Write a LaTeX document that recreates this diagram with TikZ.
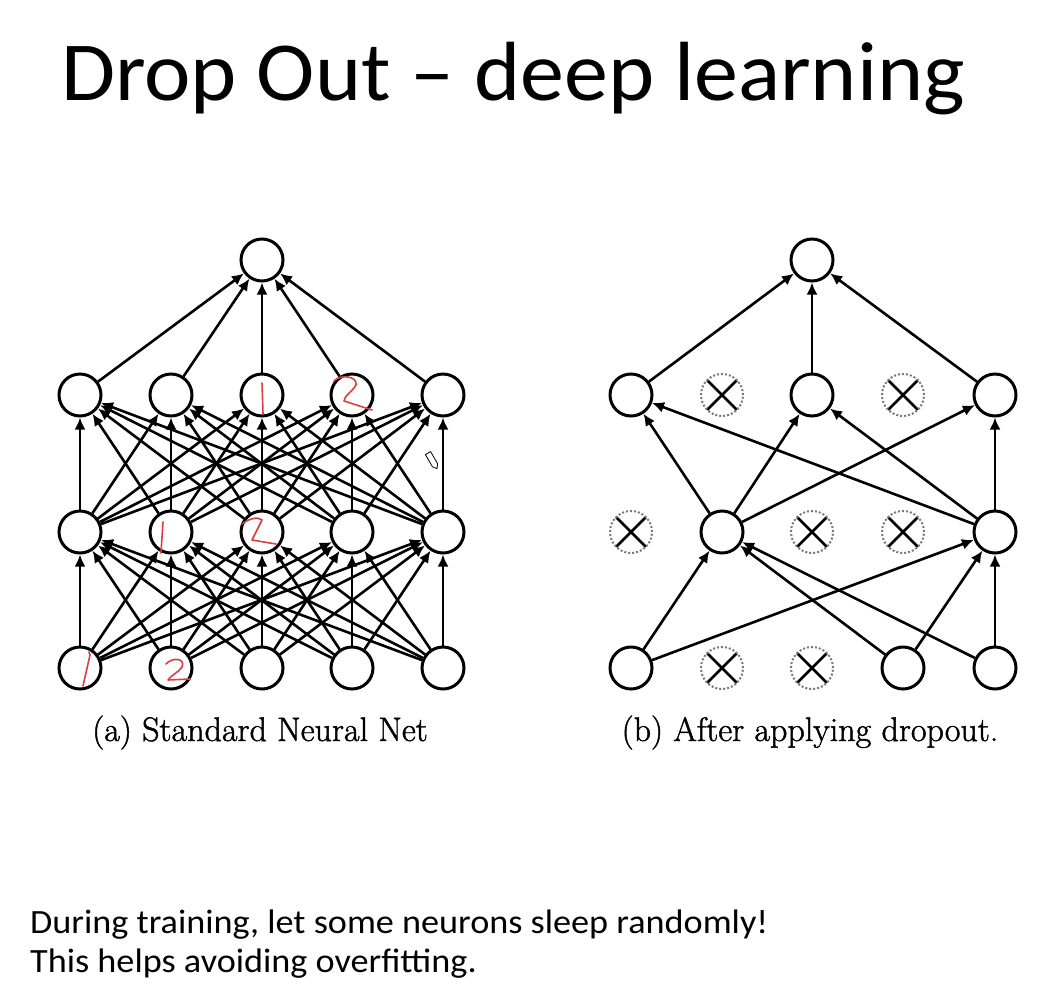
\documentclass[tikz,border=0pt]{standalone}
\usepackage{graphicx}
\usepackage{fontspec}
\newfontfamily\slidefont{Carlito}
\newfontfamily\capfont{Latin Modern Roman}[RawFeature={embolden=1.3}]
\usetikzlibrary{arrows.meta}
\definecolor{inkred}{RGB}{222,62,62}
\definecolor{dropgray}{RGB}{120,120,120}
\tikzset{
  neuron/.style={circle, draw=black, line width=3pt, fill=white,
    minimum size=42pt, inner sep=0pt},
  dropped/.style={circle, draw=dropgray, dotted, line width=2pt, fill=white,
    minimum size=42pt, inner sep=0pt,
    path picture={\draw[black, solid, line width=2.6pt]
      (path picture bounding box.south west) -- (path picture bounding box.north east)
      (path picture bounding box.north west) -- (path picture bounding box.south east);}},
  link/.style={line width=2.6pt, -{Latex[length=12pt,width=11pt]}},
  ink/.style={inkred, line width=1.6pt, line cap=round, line join=round},
  caption/.style={font=\capfont\fontsize{34}{40}\selectfont, anchor=base, inner sep=0pt},
  slidetext/.style={font=\slidefont\fontsize{34}{40}\selectfont, anchor=base west, inner sep=0pt}
}
\begin{document}
\begin{tikzpicture}[x=1pt,y=-1pt]
\useasboundingbox (0,0) rectangle (1041,991);
\fill[white] (0,0) rectangle (1041,991);

% Title and notes
\node[font=\slidefont\fontsize{84}{90}\selectfont, anchor=base west, inner sep=0pt] (title) at (61,100) {\scalebox{1.047}[1]{Drop Out – deep learning}};
\node[slidetext] (note1) at (30,933) {\scalebox{1.065}[1]{During training, let some neurons sleep randomly!}};
\node[slidetext] (note2) at (30,972) {\scalebox{1.065}[1]{This helps avoiding overfitting.}};

% ---------- (a) standard network ----------
\foreach \c/\x in {1/80,2/171,3/262,4/352,5/443}{
  \node[neuron] (ai\c) at (\x,668) {};
  \node[neuron] (ah\c) at (\x,532) {};
  \node[neuron] (ag\c) at (\x,395) {};
}
\node[neuron] (ao) at (262,260) {};
\foreach \s in {1,...,5}{
  \foreach \t in {1,...,5}{
    \draw[link] (ai\s) -- (ah\t);
    \draw[link] (ah\s) -- (ag\t);
  }
  \draw[link] (ag\s) -- (ao);
}
\node[caption] (capa) at (260,741) {(a) Standard Neural Net};

% handwritten marks
\draw[ink] (89,652) -- (90,655) -- (83,686);
\draw[ink] (166,664) .. controls (172,657) and (186,658) .. (182,667)
  .. controls (179,672) and (170,676) .. (168,680) -- (190,679);
\draw[ink] (163,522) -- (161,553);
\draw[ink] (242,524) .. controls (248,519) and (258,516) .. (262,520)
  -- (252,540) -- (276,544);
\draw[ink] (262,383) -- (263,414);
\draw[ink] (334,381) .. controls (340,374) and (358,376) .. (356,385)
  .. controls (352,392) and (344,396) .. (344,401) -- (372,410);
% pencil cursor
\draw[line width=0.8pt, rotate around={-60:(432,460)}] (424,457) -- (438,457) -- (442,460) -- (438,463) -- (424,463) -- cycle;

% ---------- (b) after dropout ----------
\node[neuron]  (bi1) at (631,668) {};
\node[dropped] (bi2) at (722,668) {};
\node[dropped] (bi3) at (812,668) {};
\node[neuron]  (bi4) at (903,668) {};
\node[neuron]  (bi5) at (995,668) {};
\node[dropped] (bh1) at (631,532) {};
\node[neuron]  (bh2) at (722,532) {};
\node[dropped] (bh3) at (812,532) {};
\node[dropped] (bh4) at (903,532) {};
\node[neuron]  (bh5) at (995,532) {};
\node[neuron]  (bg1) at (631,395) {};
\node[dropped] (bg2) at (722,395) {};
\node[neuron]  (bg3) at (812,395) {};
\node[dropped] (bg4) at (903,395) {};
\node[neuron]  (bg5) at (995,395) {};
\node[neuron]  (bo) at (812,260) {};
\foreach \s in {1,4,5}{
  \foreach \t in {2,5}{ \draw[link] (bi\s) -- (bh\t); }
}
\foreach \s in {2,5}{
  \foreach \t in {1,3,5}{ \draw[link] (bh\s) -- (bg\t); }
}
\foreach \s in {1,3,5}{ \draw[link] (bg\s) -- (bo); }
\node[caption] (capb) at (810,741) {(b) After applying dropout.};
\end{tikzpicture}
\end{document}
